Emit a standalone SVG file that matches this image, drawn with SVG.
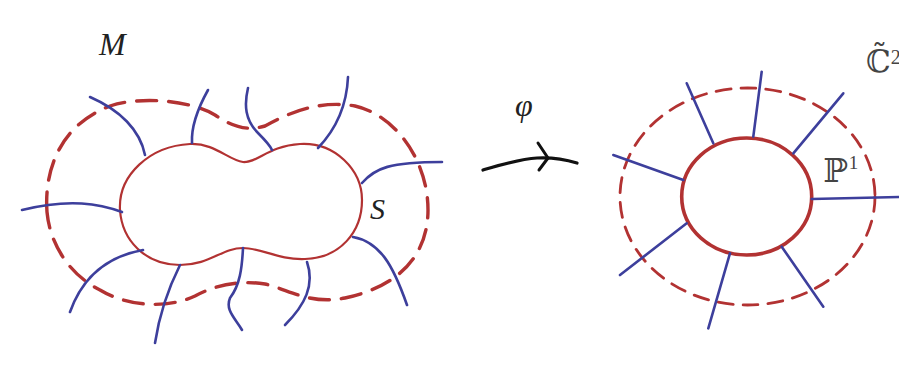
<svg xmlns="http://www.w3.org/2000/svg" width="899" height="383" viewBox="0 0 899 383">
<style>
.red{fill:none;stroke:#b23232;stroke-linecap:round;stroke-linejoin:round}
.blue{fill:none;stroke:#3d3f9c;stroke-width:2.6;stroke-linecap:round}
.lbl{font-family:"Liberation Serif","DejaVu Serif",serif;fill:#222}
.dbl{font-family:"DejaVu Serif","Liberation Serif",serif;fill:#444}
</style>
<rect width="899" height="383" fill="#ffffff"/>
<g id="left-manifold">
<path id="S" class="red" stroke-width="2.2" d="M120,210 C118,175 150,146 190,144 C215,143 228,160 243,162 C258,163 268,146 300,144 C335,142 362,170 362,200 C362,232 340,258 305,259 C278,260 262,248 243,248 C222,248 210,265 180,265 C145,265 122,240 120,210 Z"/>
<path id="nbhd" class="red" stroke-width="3.4" stroke-dasharray="20 12" d="M47,212 C44,170 60,125 110,106 C140,96 190,100 215,115 C230,125 245,132 265,126 C290,112 320,100 355,106 C395,115 428,160 428,210 C428,250 405,285 345,298 C310,305 290,290 265,284 C240,280 215,285 195,296 C170,308 130,308 100,290 C70,275 50,245 47,212 Z"/>
</g>
<g id="left-fibers">
<path class="blue" d="M90,97 C120,110 140,130 145,155"/>
<path class="blue" d="M208,90 C198,108 191,125 192,143"/>
<path class="blue" d="M248,88 C244,105 245,120 258,133 C265,140 270,145 272,150"/>
<path class="blue" d="M348,77 C347,100 340,125 318,148"/>
<path class="blue" d="M362,183 C375,168 390,162 442,162"/>
<path class="blue" d="M353,237 C380,242 393,265 407,305"/>
<path class="blue" d="M307,262 C315,285 305,305 285,325"/>
<path class="blue" d="M243,248 C242,268 240,285 230,298 C225,310 235,318 242,330"/>
<path class="blue" d="M180,265 C170,285 160,310 155,343"/>
<path class="blue" d="M143,250 C115,255 85,270 70,312"/>
<path class="blue" d="M122,212 C100,204 70,198 22,210"/>
</g>
<g id="right-blowup">
<ellipse id="P1" class="red" stroke-width="3.6" cx="746.7" cy="196.5" rx="65" ry="58.5"/>
<ellipse id="nbhd2" class="red" stroke-width="2.8" stroke-dasharray="15 10" cx="747.5" cy="196.5" rx="127.5" ry="108.5"/>
</g>
<g id="right-fibers">
<line class="blue" x1="686.7" y1="83.3" x2="713.3" y2="143.3"/>
<line class="blue" x1="761.7" y1="71.7" x2="753.3" y2="136.7"/>
<line class="blue" x1="843.3" y1="93.3" x2="793.3" y2="153.3"/>
<line class="blue" x1="811.7" y1="199" x2="899" y2="197"/>
<line class="blue" x1="781.7" y1="246.7" x2="823.3" y2="306.7"/>
<line class="blue" x1="730" y1="253.3" x2="708.3" y2="328.3"/>
<line class="blue" x1="686.7" y1="223.3" x2="620" y2="275"/>
<line class="blue" x1="613.3" y1="155" x2="683.3" y2="180"/>
</g>
<g id="connectors">
<path d="M483,170 C500,165 520,159 537,158 C555,157 567,160 577,163" fill="none" stroke="#111" stroke-width="3.2" stroke-linecap="round"/>
<path d="M538,143 L548,158 L539,170" fill="none" stroke="#111" stroke-width="3" stroke-linecap="round" stroke-linejoin="round"/>
</g>
<g id="labels">
<text class="lbl" x="99" y="55" font-size="32" font-style="italic">M</text>
<text class="lbl" x="370" y="219" font-size="30" font-style="italic">S</text>
<text class="lbl" x="515" y="116" font-size="32" font-style="italic" fill="#333">φ</text>
<text class="dbl" x="823" y="182" font-size="33">ℙ<tspan font-family="Liberation Serif" font-size="19" dy="-13" dx="1">1</tspan></text>
<text class="dbl" x="866" y="72" font-size="31">ℂ̃<tspan font-family="Liberation Serif" font-size="20" dy="-8" dx="0">2</tspan></text>
</g>
</svg>
